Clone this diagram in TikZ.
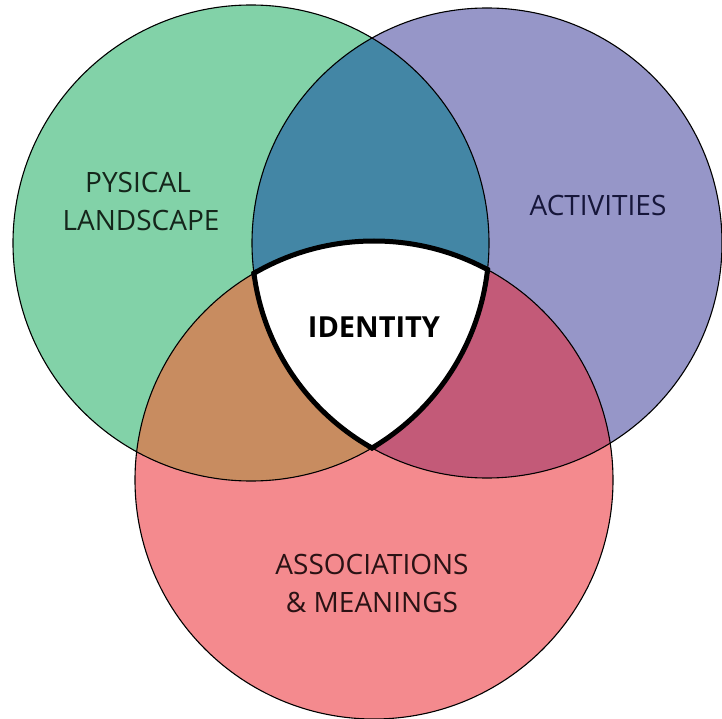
\documentclass[tikz,border=0pt]{standalone}
\usepackage{fontspec}
\setmainfont{Open Sans}
\definecolor{cgreen}{HTML}{82D2A8}
\definecolor{cpurple}{HTML}{9696C8}
\definecolor{cred}{HTML}{F48A8E}
\definecolor{cteal}{HTML}{4386A5}
\definecolor{corange}{HTML}{C88C60}
\definecolor{cmagenta}{HTML}{C35A78}
\definecolor{tgreen}{HTML}{15261B}
\definecolor{tpurple}{HTML}{16163A}
\definecolor{tred}{HTML}{2A1214}
\begin{document}
\begin{tikzpicture}[x=1pt,y=-1pt,
  outline/.style={draw=black,line width=1.1pt},
  thickline/.style={draw=black,line width=5pt},
  lbl/.style={font=\fontsize{28}{34}\selectfont,inner sep=0pt,anchor=base},
  idlbl/.style={font=\fontsize{29}{34}\selectfont\bfseries,inner sep=0pt,anchor=base}]
\useasboundingbox (0,0) rectangle (722,719);
\def\G{(251,243) circle[radius=238]}
\def\P{(487,243) circle[radius=235]}
\def\R{(374,480) circle[radius=239]}
% base fills
\fill[cgreen] \G;
\fill[cpurple] \P;
\fill[cred] \R;
% pairwise intersections
\begin{scope}\clip \G; \fill[cteal] \P;\end{scope}
\begin{scope}\clip \G; \fill[corange] \R;\end{scope}
\begin{scope}\clip \P; \fill[cmagenta] \R;\end{scope}
% triple intersection
\begin{scope}\clip \G; \clip \P; \fill[white] \R;\end{scope}
% thin outlines
\draw[outline] \G;
\draw[outline] \P;
\draw[outline] \R;
% thick outline of identity region
\begin{scope}\clip (251,243) circle[radius=240.5]; \clip (487,243) circle[radius=237.5]; \draw[thickline] \R;\end{scope}
\begin{scope}\clip (251,243) circle[radius=240.5]; \clip (374,480) circle[radius=241.5]; \draw[thickline] \P;\end{scope}
\begin{scope}\clip (487,243) circle[radius=237.5]; \clip (374,480) circle[radius=241.5]; \draw[thickline] \G;\end{scope}
% labels
\node[lbl,text=tgreen] (phys1) at (138,193) {PYSICAL};
\node[lbl,text=tgreen] (phys2) at (141,231) {LANDSCAPE};
\node[lbl,text=tpurple] (act) at (598,215) {ACTIVITIES};
\node[idlbl,text=black] (ident) at (374,337) {IDENTITY};
\node[lbl,text=tred] (assoc1) at (372,574) {ASSOCIATIONS};
\node[lbl,text=tred] (assoc2) at (372,612) {\&~MEANINGS};
\end{tikzpicture}
\end{document}
